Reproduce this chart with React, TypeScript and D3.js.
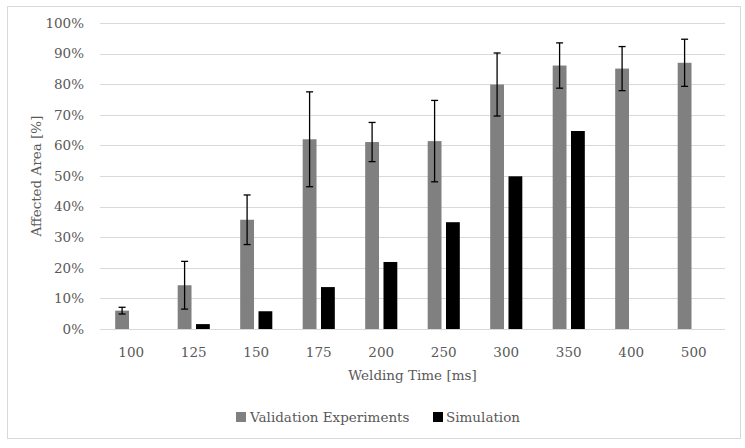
import React, { useEffect } from 'react';
import { scaleBand, scaleLinear } from 'd3';

const categories = ['100', '125', '150', '175', '200', '250', '300', '350', '400', '500'];
const validation = [6.0, 14.3, 35.7, 62.0, 61.1, 61.4, 79.9, 86.1, 85.1, 87.0];
const validationErr = [1.1, 7.8, 8.1, 15.5, 6.4, 13.3, 10.3, 7.4, 7.2, 7.7];
const simulation: (number | null)[] = [null, 1.6, 5.8, 13.7, 21.9, 34.9, 49.9, 64.7, null, null];
const yTicks = [0, 10, 20, 30, 40, 50, 60, 70, 80, 90, 100];
const seriesNames = ['Validation Experiments', 'Simulation'];
const seriesColors = ['#808080', '#000000'];

const W = 745;
const H = 448;
const plot = { left: 100, right: 725, top: 23, bottom: 329 };
const font = '"DejaVu Serif", serif';
const textColor = '#595959';
const fs = 13.5;

export default function App() {
  useEffect(() => {
    document.body.style.margin = '0';
  }, []);

  const x = scaleBand<string>().domain(categories).range([plot.left, plot.right]);
  const bw = x.bandwidth();
  // two bars per category, centred in the band
  const inner = scaleBand<string>()
    .domain(['v', 's'])
    .range([bw * 0.243, bw * 0.757])
    .paddingInner(0.245);
  const y = scaleLinear().domain([0, 100]).range([plot.bottom, plot.top]);
  const cap = 3.5;

  return (
    <svg width={W} height={H} style={{ display: 'block', fontFamily: font }}>
      <rect x={0} y={0} width={W} height={H} fill="#fff" />
      <rect x={7.5} y={6.5} width={733} height={432} fill="none" stroke="#d9d9d9" strokeWidth={1} />

      {/* gridlines */}
      {yTicks.map(t => (
        <line key={t} x1={plot.left} x2={plot.right} y1={Math.round(y(t)) + 0.5} y2={Math.round(y(t)) + 0.5}
          stroke="#d9d9d9" strokeWidth={1} />
      ))}

      {/* y tick labels */}
      {yTicks.map(t => (
        <text key={t} x={84} y={y(t)} dy="0.35em" textAnchor="end" fontSize={fs} fill={textColor}>{t}%</text>
      ))}

      {/* bars */}
      {categories.map((c, i) => (
        <g key={c} transform={`translate(${x(c)},0)`}>
          <rect x={inner('v')} y={y(validation[i])} width={inner.bandwidth()}
            height={y(0) - y(validation[i])} fill={seriesColors[0]} />
          {simulation[i] != null && (
            <rect x={inner('s')} y={y(simulation[i]!)} width={inner.bandwidth()}
              height={y(0) - y(simulation[i]!)} fill={seriesColors[1]} />
          )}
        </g>
      ))}

      {/* error bars */}
      {categories.map((c, i) => {
        const cx = x(c)! + inner('v')! + inner.bandwidth() / 2;
        const hi = y(validation[i] + validationErr[i]);
        const lo = y(validation[i] - validationErr[i]);
        return (
          <g key={c} stroke="#000" strokeWidth={1.3}>
            <line x1={cx} x2={cx} y1={hi} y2={lo} />
            <line x1={cx - cap} x2={cx + cap} y1={hi} y2={hi} />
            <line x1={cx - cap} x2={cx + cap} y1={lo} y2={lo} />
          </g>
        );
      })}

      {/* x tick labels */}
      {categories.map(c => (
        <text key={c} x={x(c)! + bw / 2} y={352} dy="0.35em" textAnchor="middle" fontSize={fs} fill={textColor}>{c}</text>
      ))}

      {/* axis titles */}
      <text x={(plot.left + plot.right) / 2} y={375} dy="0.35em" textAnchor="middle" fontSize={fs} fill={textColor}>
        Welding Time [ms]
      </text>
      <text transform={`translate(36,${(plot.top + plot.bottom) / 2}) rotate(-90)`} dy="0.35em" textAnchor="middle"
        fontSize={fs} fill={textColor}>
        Affected Area [%]
      </text>

      {/* legend */}
      <g>
        <rect x={236} y={412} width={10} height={10} fill={seriesColors[0]} />
        <text x={250} y={417} dy="0.35em" fontSize={fs} fill={textColor}>{seriesNames[0]}</text>
        <rect x={433} y={412} width={10} height={10} fill={seriesColors[1]} />
        <text x={446} y={417} dy="0.35em" fontSize={fs} fill={textColor}>{seriesNames[1]}</text>
      </g>
    </svg>
  );
}
